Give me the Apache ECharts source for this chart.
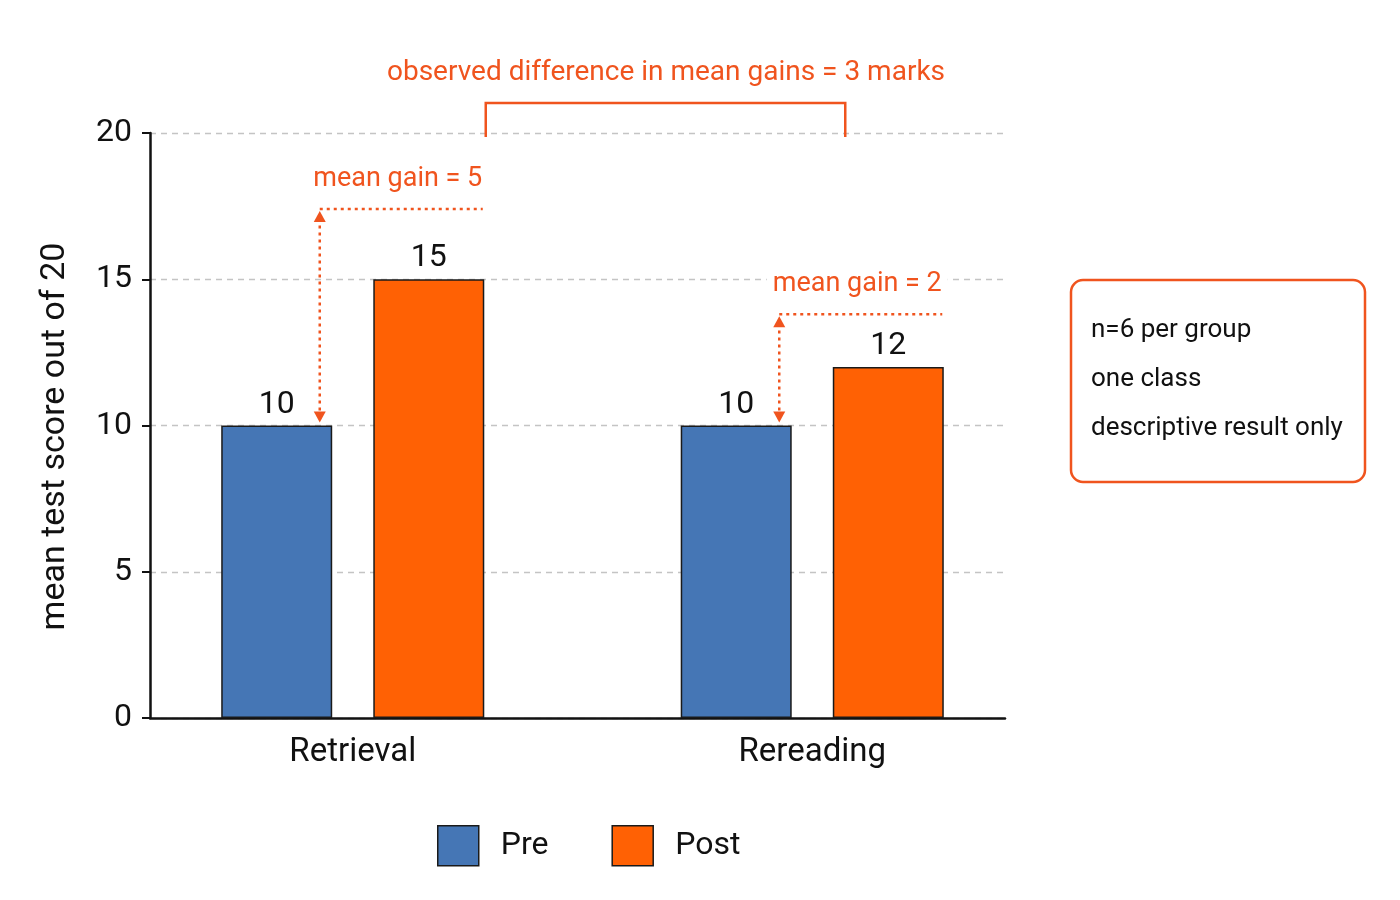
<!DOCTYPE html>
<html>
<head>
<meta charset="utf-8">
<script src="https://cdn.jsdelivr.net/npm/echarts@6/dist/echarts.min.js"></script>
<style>
  html, body { margin: 0; padding: 0; background: #fff; }
  #main { width: 1400px; height: 900px; }
</style>
</head>
<body>
<div id="main"></div>
<script>
// chart values
var groups = ['Retrieval', 'Rereading'];
var preScores = [10, 10];
var postScores = [15, 12];
var yTicks = [0, 5, 10, 15, 20];
var gainLabels = ['mean gain = 5', 'mean gain = 2'];
var gainLevels = [17.4, 13.8];   // height of the dotted gain guides
var noteLines = ['n=6 per group', 'one class', 'descriptive result only'];
var diffLabel = 'observed difference in mean gains = 3 marks';

var FONT = 'Roboto, "Liberation Sans", sans-serif';
var BLUE = '#4576b5';
var ORANGE = '#ff6104';
var ANNO = '#f0541e';

var myChart = echarts.init(document.getElementById('main'));

myChart.setOption({
  backgroundColor: '#fff',
  textStyle: { fontFamily: FONT },
  animation: false,
  grid: [
    { left: 150, right: 395, top: 133, bottom: 182 },
    { left: 123, right: 358, top: 133, bottom: 182 }
  ],
  legend: {
    data: ['Pre', 'Post'],
    left: 432, top: 820,
    icon: 'rect',
    itemWidth: 41, itemHeight: 40, itemGap: 63,
    itemStyle: { borderColor: '#1a1a1a', borderWidth: 1.5 },
    textStyle: { fontSize: 32, color: '#111', fontFamily: FONT, padding: [0, 0, 0, 17] }
  },
  xAxis: [
    { gridIndex: 0, type: 'category', data: groups,
      axisLine: { lineStyle: { color: '#111', width: 2.5 } },
      axisTick: { show: false }, axisLabel: { show: false } },
    { gridIndex: 1, type: 'category', data: groups,
      axisLine: { show: false }, axisTick: { show: false },
      axisLabel: { fontSize: 33, color: '#111', margin: 18 } }
  ],
  yAxis: [
    { gridIndex: 0, type: 'value', min: 0, max: 20, interval: 5,
      name: 'mean test score out of 20', nameLocation: 'middle', nameGap: 78,
      nameTextStyle: { fontSize: 34, color: '#111', padding: [0, 22, 0, 0] },
      axisLine: { show: true, lineStyle: { color: '#111', width: 2.5 } },
      axisTick: { show: true, length: 8, lineStyle: { color: '#111', width: 2 } },
      axisLabel: { fontSize: 32, color: '#111', margin: 18,
        formatter: function (v) { return yTicks.indexOf(v) >= 0 ? String(v) : ''; } },
      splitLine: { lineStyle: { color: '#c4c4c4', type: [6, 5], width: 1.3 } } },
    { gridIndex: 1, type: 'value', min: 0, max: 20, interval: 5, show: false,
      splitLine: { show: false } }
  ],
  series: [
    { name: 'Pre', type: 'bar', xAxisIndex: 1, yAxisIndex: 1, data: preScores,
      barWidth: 111, barGap: '37%',
      itemStyle: { color: BLUE, borderColor: '#1a1a1a', borderWidth: 1.5 },
      label: { show: true, position: 'top', distance: 5, fontSize: 32, color: '#111' } },
    { name: 'Post', type: 'bar', xAxisIndex: 1, yAxisIndex: 1, data: postScores,
      barWidth: 111, barGap: '37%',
      itemStyle: { color: ORANGE, borderColor: '#1a1a1a', borderWidth: 1.5 },
      label: { show: true, position: 'top', distance: 5, fontSize: 32, color: '#111' } }
  ]
});

// annotations placed from the axes
function px(cat, val) {
  return myChart.convertToPixel({ xAxisIndex: 1, yAxisIndex: 1 }, [cat, val]);
}
var g = [];
var dot = { stroke: ANNO, lineWidth: 2.5, lineDash: [3, 4] };

for (var i = 0; i < groups.length; i++) {
  var c = px(i, preScores[i]);
  var preY = c[1];
  var lvlY = px(i, gainLevels[i])[1];
  var ax = c[0] - 33;        // arrow near right edge of Pre bar
  var xEnd = c[0] + 130;     // guide ends near right edge of Post bar
  g.push({ type: 'line', shape: { x1: ax, y1: preY - 8, x2: ax, y2: lvlY + 8 }, style: dot, z: 50 });
  g.push({ type: 'line', shape: { x1: ax, y1: lvlY, x2: xEnd, y2: lvlY }, style: dot, z: 50 });
  g.push({ type: 'polygon', shape: { points: [[ax - 6, lvlY + 13], [ax + 6, lvlY + 13], [ax, lvlY + 2]] }, style: { fill: ANNO }, z: 50 });
  g.push({ type: 'polygon', shape: { points: [[ax - 6, preY - 14], [ax + 6, preY - 14], [ax, preY - 3]] }, style: { fill: ANNO }, z: 50 });
  g.push({ type: 'text', x: c[0] + 45, y: lvlY - 30, z: 50,
    style: { text: gainLabels[i], fill: ANNO, font: '27px ' + FONT, align: 'center', verticalAlign: 'middle',
      backgroundColor: '#fff', padding: [0, 6] } });
}

// bracket for the difference in gains
var bL = px(0, 0)[0] + 133;
var bR = px(1, 0)[0] + 33;
var yTop = px(0, 20)[1];
g.push({ type: 'polyline', shape: { points: [[bL, yTop + 4], [bL, yTop - 30], [bR, yTop - 30], [bR, yTop + 4]] },
  style: { stroke: ANNO, lineWidth: 2.5, fill: null }, z: 50 });
g.push({ type: 'text', x: 666, y: 73, z: 50,
  style: { text: diffLabel, fill: ANNO, font: '28px ' + FONT, align: 'center', verticalAlign: 'middle' } });

// note box
g.push({ type: 'rect', shape: { x: 1071, y: 280, width: 294, height: 202, r: 12 },
  style: { stroke: ANNO, lineWidth: 2.5, fill: '#fff' }, z: 50 });
for (var k = 0; k < noteLines.length; k++) {
  g.push({ type: 'text', x: 1091, y: 330 + k * 49, z: 51,
    style: { text: noteLines[k], fill: '#111', font: '26px ' + FONT, align: 'left', verticalAlign: 'middle' } });
}

myChart.setOption({ graphic: g });
</script>
</body>
</html>
